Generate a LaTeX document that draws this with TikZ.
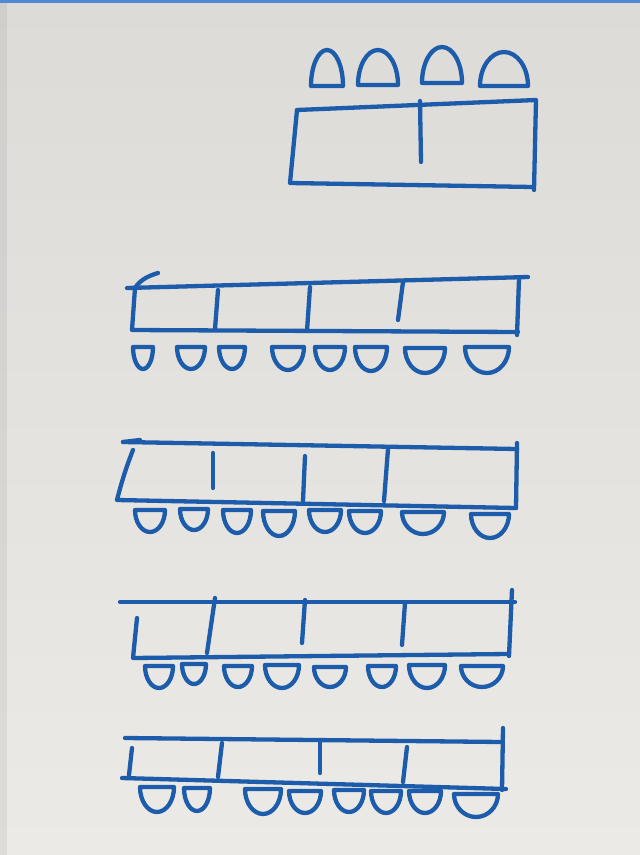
\documentclass[tikz,border=0pt]{standalone}
\definecolor{ink}{RGB}{28,92,170}
\definecolor{paperA}{RGB}{221,219,216}
\definecolor{paperB}{RGB}{236,234,231}
\definecolor{frame}{RGB}{80,135,215}
\begin{document}
\begin{tikzpicture}[x=1pt,y=-1pt,
  pen/.style={draw=ink,line width=4.3pt,line cap=round,line join=round},
  pics/chairbelow/.style 2 args={code={\draw[pen] (-#1,0) -- (#1,0) arc[start angle=0,end angle=180,x radius=#1,y radius=#2];}},
  pics/chairabove/.style 2 args={code={\draw[pen] (-#1,0) -- (#1,0) arc[start angle=0,end angle=-180,x radius=#1,y radius=#2];}}]
% paper
\shade[top color=paperA,bottom color=paperB] (0,0) rectangle (640,855);
\useasboundingbox (0,0) rectangle (640,855);
\fill[black,opacity=0.06] (0,3) rectangle (7,855);
\fill[frame] (0,0) rectangle (640,3);

% ---- table 1 (top) with 4 chairs above
\coordinate (t1a) at (297,110); \coordinate (t1b) at (536,100);
\coordinate (t1c) at (534,190); \coordinate (t1d) at (290,183);
\draw[pen] (t1a) -- (t1b) -- (t1c);
\draw[pen] (t1a) -- (t1d) -- (533,187);
\draw[pen] (420,101) -- (421,162);
\pic at (327,86) {chairabove={16}{36}};
\pic at (378,85) {chairabove={20}{35}};
\pic at (442,83) {chairabove={20}{36}};
\pic at (504,86) {chairabove={24}{34}};

% ---- table 2
\draw[pen] (127,288) -- (528,277);
\draw[pen] (135,288) .. controls (140,280) and (148,276) .. (158,273);
\draw[pen] (135,288) -- (132,330) -- (518,332);
\draw[pen] (519,279) -- (517,335);
\draw[pen] (218,290) -- (215,329);
\draw[pen] (310,287) -- (307,331);
\draw[pen] (403,282) -- (398,320);
\pic at (143,347) {chairbelow={10}{22}};
\pic at (191,347) {chairbelow={14}{22}};
\pic at (232,347) {chairbelow={13}{22}};
\pic at (288,347) {chairbelow={16}{23}};
\pic at (330,347) {chairbelow={15}{23}};
\pic at (371,347) {chairbelow={16}{24}};
\pic at (425,348) {chairbelow={20}{25}};
\pic at (487,347) {chairbelow={22}{26}};

% ---- table 3
\draw[pen] (123,442) -- (517,449);
\draw[pen] (123,442) -- (140,440);
\draw[pen] (133,450) .. controls (125,470) and (120,488) .. (117,500) -- (516,508);
\draw[pen] (517,443) -- (516,508);
\draw[pen] (213,453) -- (213,488);
\draw[pen] (305,456) -- (303,501);
\draw[pen] (388,449) -- (384,501);
\pic at (150,510) {chairbelow={15}{22}};
\pic at (194,509) {chairbelow={14}{21}};
\pic at (237,510) {chairbelow={14}{23}};
\pic at (279,511) {chairbelow={16}{25}};
\pic at (325,510) {chairbelow={16}{22}};
\pic at (365,511) {chairbelow={16}{22}};
\pic at (423,512) {chairbelow={21}{22}};
\pic at (490,514) {chairbelow={19}{24}};

% ---- table 4
\draw[pen] (120,602) -- (515,602);
\draw[pen] (137,618) -- (133,658) -- (508,654);
\draw[pen] (512,590) -- (509,656);
\draw[pen] (215,598) -- (207,653);
\draw[pen] (305,600) -- (302,643);
\draw[pen] (405,603) -- (402,645);
\pic at (159,666) {chairbelow={14}{22}};
\pic at (194,664) {chairbelow={12}{20}};
\pic at (238,666) {chairbelow={14}{21}};
\pic at (282,665) {chairbelow={17}{23}};
\pic at (330,667) {chairbelow={16}{20}};
\pic at (382,666) {chairbelow={14}{21}};
\pic at (427,665) {chairbelow={18}{23}};
\pic at (482,666) {chairbelow={21}{21}};

% ---- table 5
\draw[pen] (125,738) -- (502,742);
\draw[pen] (132,748) -- (129,775);
\draw[pen] (122,778) -- (506,789);
\draw[pen] (503,728) -- (502,790);
\draw[pen] (222,743) -- (218,777);
\draw[pen] (320,743) -- (320,773);
\draw[pen] (407,747) -- (403,782);
\pic at (157,787) {chairbelow={17}{25}};
\pic at (197,788) {chairbelow={13}{23}};
\pic at (263,789) {chairbelow={18}{25}};
\pic at (305,791) {chairbelow={16}{22}};
\pic at (349,790) {chairbelow={15}{22}};
\pic at (386,791) {chairbelow={15}{22}};
\pic at (425,791) {chairbelow={16}{22}};
\pic at (476,794) {chairbelow={22}{23}};
\end{tikzpicture}
\end{document}
